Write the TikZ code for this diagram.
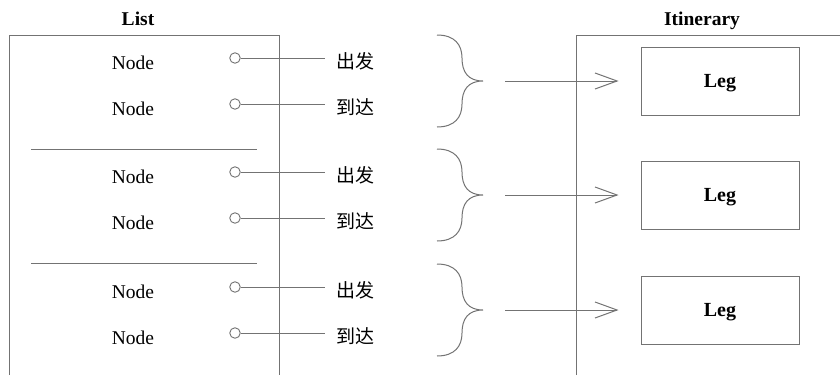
\documentclass[tikz,border=0pt]{standalone}
\usepackage{fontspec}
\setmainfont{Liberation Serif}
\newfontfamily\cjk{Noto Sans CJK SC}
\usetikzlibrary{arrows.meta}
\definecolor{linecol}{gray}{0.45}
\tikzset{
  frame/.style={draw=linecol, line width=1pt},
  lbl/.style={font=\fontsize{19.5}{22}\selectfont, inner sep=0pt, anchor=base},
  zh/.style={font=\cjk\fontsize{19}{22}\selectfont, inner sep=0pt, anchor=base west},
  title/.style={font=\bfseries\fontsize{19.5}{22}\selectfont, inner sep=0pt, anchor=base},
  port/.style={circle, draw=linecol, fill=white, minimum size=10.5pt, inner sep=0pt, line width=0.9pt},
  legbox/.style={draw=linecol, line width=1pt, minimum width=158pt, minimum height=68pt, inner sep=0pt,
    font=\bfseries\fontsize{20}{22}\selectfont, text height=16pt, text depth=4pt},
  wire/.style={draw=linecol, line width=1pt},
  bracecurve/.style={draw=linecol, line width=1pt},
  arr/.style={draw=linecol, line width=1pt, -{Straight Barb[length=22pt, width=16pt, line width=1pt]},
    shorten <=22pt, shorten >=22pt},
}
\begin{document}
\begin{tikzpicture}[x=1pt, y=-1pt]
\useasboundingbox (0,0) rectangle (840,375);
% titles
\node[title] (tlist) at (138,25) {List};
\node[title] (titin) at (702,25) {Itinerary};
% frames
\draw[frame] (9,375) -- (9,35) -- (279,35) -- (279,375);
\draw[frame] (576,375) -- (576,35) -- (840,35);
% separators
\draw[frame] (31,149) -- (257,149);
\draw[frame] (31,263) -- (257,263);
\foreach \g/\y in {1/58, 2/172, 3/287}{
  \pgfmathsetmacro{\yb}{\y+46}
  \pgfmathsetmacro{\yc}{\y+23}
  \node[lbl] (na\g) at (133,\y+11) {Node};
  \node[lbl] (nb\g) at (133,\yb+11) {Node};
  \node[port] (pa\g) at (235,\y) {};
  \node[port] (pb\g) at (235,\yb) {};
  \coordinate (ea\g) at (325,\y);
  \coordinate (eb\g) at (325,\yb);
  \draw[wire] (pa\g) -- (ea\g);
  \draw[wire] (pb\g) -- (eb\g);
  \node[zh] (da\g) at (336,\y+10) {出发};
  \node[zh] (db\g) at (336,\yb+10) {到达};
  % brace
  \draw[bracecurve] (437,\yc-46) .. controls (455,\yc-46) and (462,\yc-36) .. (462,\yc-23)
     .. controls (462,\yc-9) and (468,\yc) .. (483,\yc)
     .. controls (468,\yc) and (462,\yc+9) .. (462,\yc+23)
     .. controls (462,\yc+36) and (455,\yc+46) .. (437,\yc+46);
  \coordinate (tip\g) at (483,\yc);
  \node[legbox] (leg\g) at (720,\yc) {Leg};
  \draw[arr] (tip\g) -- (leg\g.west);
}
\end{tikzpicture}
\end{document}
